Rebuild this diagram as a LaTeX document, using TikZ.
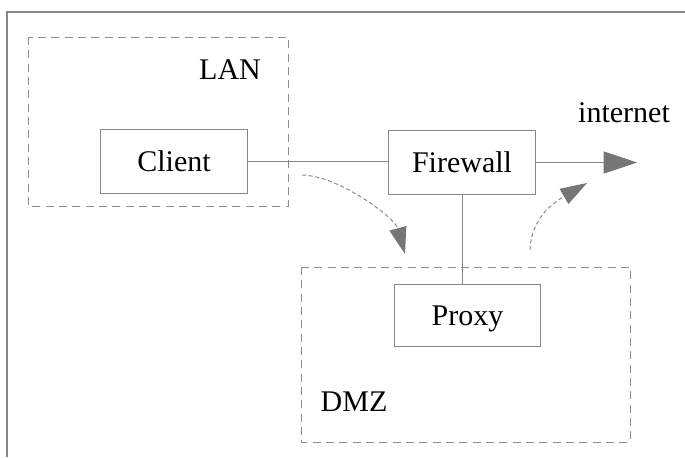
\documentclass[tikz,border=0pt]{standalone}
\usepackage{fontspec}
\setmainfont{Liberation Serif}
\usetikzlibrary{arrows.meta}
\definecolor{linegray}{RGB}{135,135,135}
\definecolor{tipgray}{RGB}{118,118,118}
\definecolor{dashgray}{RGB}{140,140,140}
\tikzset{
  box/.style={draw=linegray, line width=0.75pt, minimum width=110pt, minimum height=48.5pt,
    inner sep=0pt, text height=15pt, text depth=0pt, font=\fontsize{22.5}{27}\selectfont},
  lbl/.style={inner sep=0pt, font=\fontsize{22.5}{27}\selectfont},
  zone/.style={draw=dashgray, line width=0.75pt, dash pattern=on 6pt off 4pt},
  wire/.style={draw=linegray, line width=0.75pt},
  flow/.style={draw=dashgray, line width=0.75pt, dash pattern=on 3pt off 2pt},
  bigtip/.style={-{Triangle[length=25pt,width=16.5pt,color=tipgray,fill=tipgray]}},
  smalltip/.style={-{Triangle[length=20pt,width=13pt,color=tipgray,fill=tipgray]}},
}
\begin{document}
\begin{tikzpicture}[x=0.75pt,y=0.75pt,yscale=-1,xscale=1]
\useasboundingbox (0,0) rectangle (685,457);

% frame
\draw [linegray, line width=0.8pt] (7,457) -- (7,12) -- (685,12);

% zones
\draw [zone] (28,37) rectangle (288,206);
\draw [zone] (301,267) rectangle (630,442);

% Text Node
\node [lbl] (lan) at (230,70) {LAN};
% Text Node
\node [lbl] (dmz) at (354,402) {DMZ};
% Text Node
\node [lbl] (internet) at (624,113) {internet};

% boxes
\node [box] (client) at (174,161.5) {Client};
\node [box] (firewall) at (462,162.5) {Firewall};
\node [box, minimum height=46.5pt] (proxy) at (467.5,315.5) {Proxy};

% links
\draw [wire] (client.east) -- (client.east -| firewall.west);
\draw [wire] (firewall.south) -- (firewall.south |- proxy.north);
\coordinate (net) at (637,162.5);
\draw [wire, bigtip] (firewall.east) -- (net);

% traffic
\coordinate (lanout) at (302,175);
\coordinate (dmzin) at (405,254);
\draw [flow, smalltip] (lanout) .. controls (340,176) and (395,218) .. (dmzin);
\coordinate (dmzout) at (530,250);
\coordinate (netin) at (587,183);
\draw [flow, smalltip] (dmzout) .. controls (531,220) and (551,204) .. (netin);

\end{tikzpicture}
\end{document}
